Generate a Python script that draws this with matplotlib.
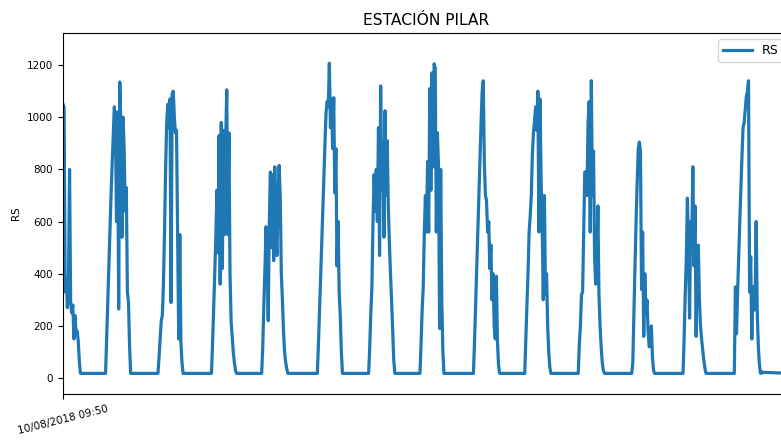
import numpy as np
import matplotlib
matplotlib.use("Agg")
import matplotlib.pyplot as plt

# radiación solar (RS), muestras cada 30 min; horas contadas desde 10/08/2018 09:50
paso_h = 0.5
inicio_dia_h = [0.0, 19.5, 43.5, 68.0, 91.0, 116.5, 140.0, 163.5, 188.0,
                211.5, 236.0, 260.5, 284.0, 307.5]
fin_serie_h = 333.0
rs_noche = 18

rs_dias = [
    [1050, 1040, 330, 380, 270, 360, 800, 290, 250, 280, 150, 240, 170, 180, 140, 60, 18],
    [18, 150, 290, 430, 560, 700, 820, 930, 1040, 1000, 600, 1020, 265, 1135, 980, 540,
     1000, 880, 640, 730, 330, 290, 120, 18],
    [18, 80, 150, 220, 240, 360, 560, 800, 980, 1050, 960, 1070, 290, 1090, 1100, 1000,
     940, 950, 560, 150, 550, 140, 60, 18],
    [18, 130, 260, 400, 540, 720, 480, 930, 360, 980, 420, 950, 550, 900, 1105, 550,
     940, 400, 220, 160, 100, 60, 30, 18],
    [18, 120, 280, 420, 580, 480, 220, 600, 790, 500, 780, 450, 810, 560, 470, 700,
     815, 700, 400, 300, 180, 100, 60, 35, 18],
    [18, 130, 260, 390, 520, 650, 780, 900, 1020, 1060, 1040, 1207, 960, 1070, 880,
     1075, 710, 880, 430, 600, 330, 240, 100, 18],
    [18, 120, 250, 350, 600, 780, 640, 800, 600, 960, 470, 1120, 720, 900, 540, 1025,
     700, 910, 660, 520, 400, 300, 180, 70, 18],
    [18, 130, 260, 350, 560, 700, 560, 830, 560, 1110, 720, 1170, 810, 1205, 1190, 560,
     940, 810, 190, 800, 300, 100, 18],
    [18, 140, 280, 420, 550, 700, 840, 980, 1100, 1140, 820, 700, 680, 560, 600, 420,
     510, 300, 400, 200, 150, 390, 140, 50, 18],
    [18, 150, 280, 400, 560, 620, 700, 860, 940, 990, 1040, 950, 1100, 560, 1070, 760,
     570, 300, 700, 320, 400, 200, 100, 40, 18],
    [18, 130, 200, 320, 330, 560, 790, 790, 700, 980, 1060, 560, 1140, 700, 870, 460,
     360, 420, 660, 320, 200, 120, 60, 30, 18],
    [18, 60, 250, 430, 600, 750, 880, 905, 870, 340, 560, 160, 400, 250, 300, 180, 120,
     130, 200, 80, 30, 18],
    [18, 150, 320, 460, 690, 500, 230, 600, 530, 810, 430, 660, 160, 500, 510, 300, 200,
     150, 110, 70, 40, 18],
    [18, 350, 170, 330, 470, 600, 730, 850, 960, 980, 1030, 1080, 1100, 1140, 330, 465,
     150, 350, 260, 300, 600, 250, 120, 50, 18, 25, 20, 22],
]

horas = []
rs = []
for h0, vals in zip(inicio_dia_h, rs_dias):
    for k, v in enumerate(vals):
        horas.append(h0 + k * paso_h)
        rs.append(v)
horas.append(fin_serie_h)
rs.append(rs_noche)

fig = plt.figure(figsize=(7.81, 4.41), dpi=100)
ax = fig.add_axes([63 / 781, 1 - 394 / 441, (790 - 63) / 781, (394 - 33) / 441])

ax.plot(horas, rs, color="#1f77b4", lw=2.3, label="RS")
ax.set_xlim(horas[0], horas[-1])
ax.set_ylim(-61, 1323)
ax.set_yticks(range(0, 1201, 200))
ax.set_xticks([0])
ax.set_xticklabels(["10/08/2018 09:50"], rotation=14, ha="center")
ax.tick_params(labelsize=7.5)
ax.set_ylabel("RS", fontsize=7.5)
ax.set_title("ESTACIÓN PILAR", fontsize=11.2)
ax.legend(loc="upper right", fontsize=9, handlelength=2.3)

fig.savefig("out.png", dpi=100)
